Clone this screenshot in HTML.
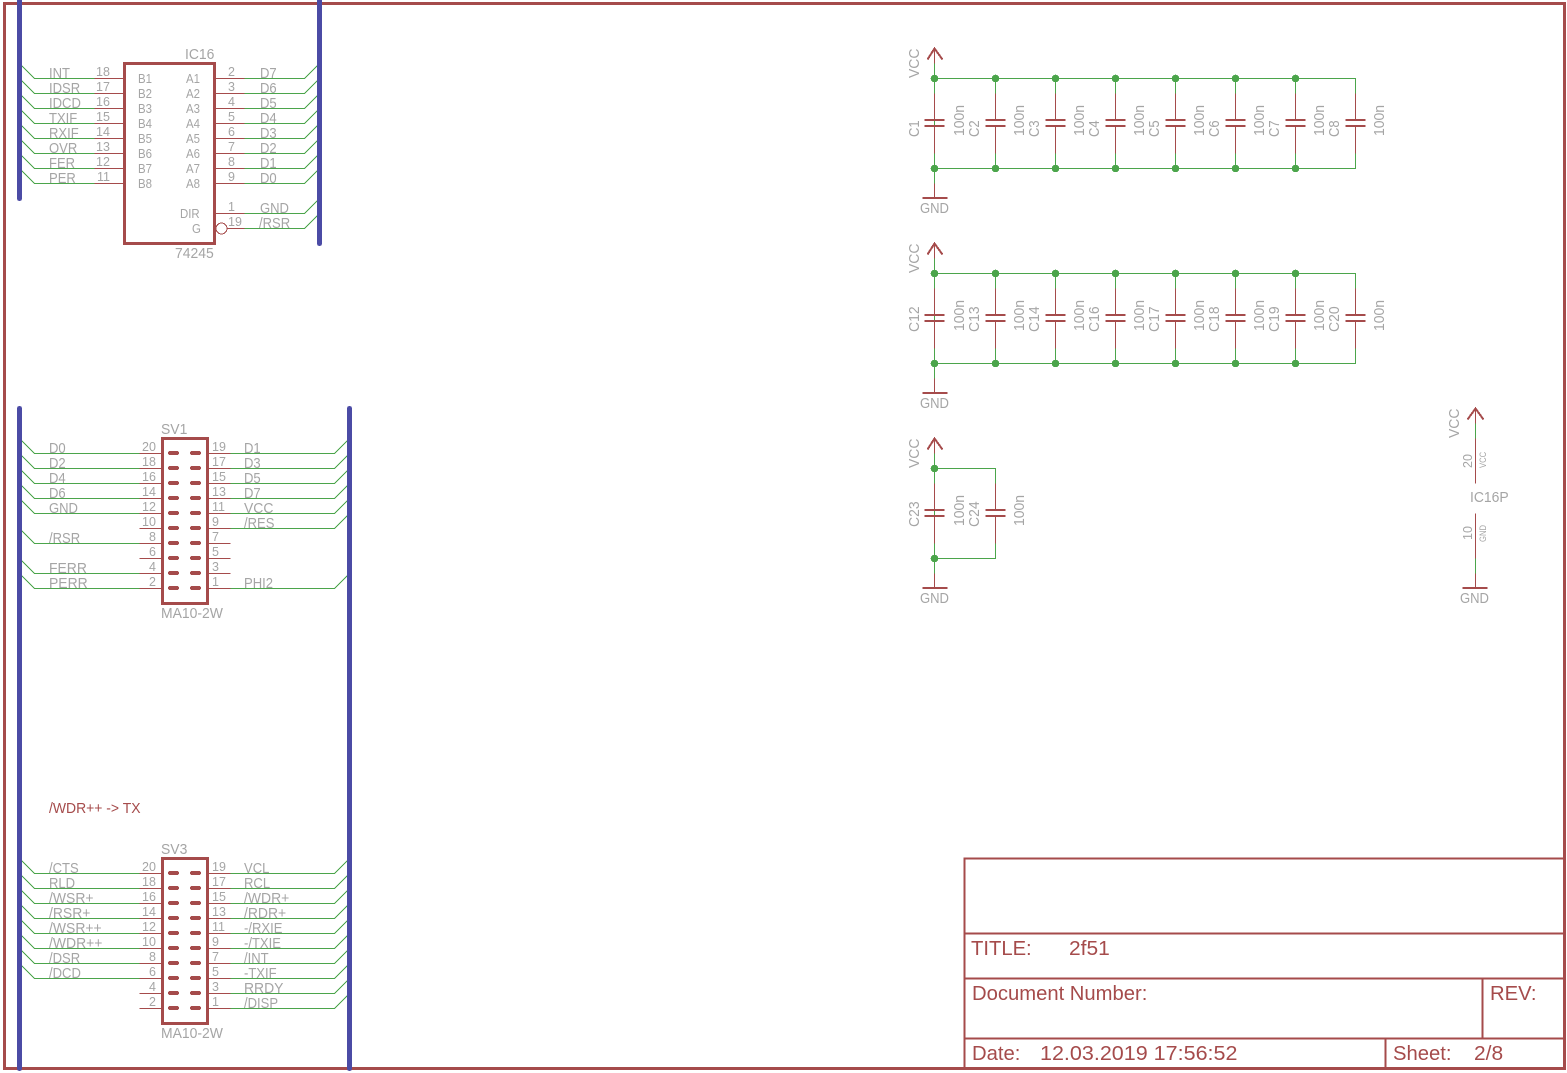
<!DOCTYPE html>
<html><head><meta charset="utf-8"><title>2f51</title>
<style>
html,body{margin:0;padding:0;background:#fff;width:1567px;height:1073px;overflow:hidden}
svg{display:block;position:absolute;left:0;top:0;shape-rendering:crispEdges}
text{font-family:"Liberation Sans",sans-serif;fill:#a5a5a5;transform-box:fill-box;transform-origin:0 0}
.l{font-size:15px;transform:scaleX(.87)}
.w{font-size:15px;transform:scaleX(.93)}
.p{font-size:12.5px;transform:scaleX(1)}
.n{font-size:13px;transform:scaleX(.88)}
.s{font-size:9px;transform:scaleX(.85)}
.r{fill:#a54b4b}
.t{fill:#a54b4b;font-size:20px;transform:scaleX(1.012)}
.t2{fill:#a54b4b;font-size:20px;transform:scaleX(1.05)}
.t3{fill:#a54b4b;font-size:20px;transform:scaleX(1.077)}
path,circle,rect{fill:none}
.R{stroke:#a54b4b;stroke-width:1}
.R2{stroke:#a54b4b;stroke-width:2}
.R3{stroke:#a54b4b;stroke-width:3}
.G{stroke:#4ba54b;stroke-width:1}
.B{stroke:#4b4ba5;stroke-width:5;stroke-linecap:round}
.P{stroke:#a54b4b;stroke-width:4;stroke-linecap:round}
.d circle{fill:#4ba54b}
</style></head><body>
<svg width="1567" height="1073" viewBox="0 0 1567 1073" xmlns="http://www.w3.org/2000/svg">
<g transform="translate(.5 .5)">
<!-- frame -->
<path class="R3" d="M4 3H1564V1068H4Z"/>
<path class="R2" d="M964 1068V858H1564M964 933H1564M964 978H1564M964 1038H1564M1482 978V1038M1385 1038V1068"/>

<!-- IC16 nets -->
<path class="G" d="M19 63L34 78H94M19 78L34 93H94M19 93L34 108H94M19 108L34 123H94M19 123L34 138H94M19 138L34 153H94M19 153L34 168H94M19 168L34 183H94"/>
<path class="G" d="M244 78H304L319 63M244 93H304L319 78M244 108H304L319 93M244 123H304L319 108M244 138H304L319 123M244 153H304L319 138M244 168H304L319 153M244 183H304L319 168M244 213H304L319 198M244 228H304L319 213"/>
<path class="R" d="M94 78H124M94 93H124M94 108H124M94 123H124M94 138H124M94 153H124M94 168H124M94 183H124M214 78H244M214 93H244M214 108H244M214 123H244M214 138H244M214 153H244M214 168H244M214 183H244M214 213H244M226 228H244"/>
<rect class="R3" x="124" y="63" width="90" height="180"/>
<circle class="R" cx="221" cy="228" r="5.5" style="fill:#fff"/>

<!-- SV1 nets -->
<path class="G" d="M19 438L34 453H139M19 453L34 468H139M19 468L34 483H139M19 483L34 498H139M19 498L34 513H139M19 528L34 543H139M19 558L34 573H139M19 573L34 588H139"/>
<path class="G" d="M230 453H334L349 438M230 468H334L349 453M230 483H334L349 468M230 498H334L349 483M230 513H334L349 498M230 528H334L349 513M230 588H334L349 573"/>
<path class="R" d="M139 453H162M139 468H162M139 483H162M139 498H162M139 513H162M139 528H162M139 543H162M139 558H162M139 573H162M139 588H162M207 453H230M207 468H230M207 483H230M207 498H230M207 513H230M207 528H230M207 543H230M207 558H230M207 573H230M207 588H230"/>
<rect class="R3" x="162" y="438" width="45" height="165"/>

<!-- SV3 nets -->
<path class="G" d="M19 858L34 873H139M19 873L34 888H139M19 888L34 903H139M19 903L34 918H139M19 918L34 933H139M19 933L34 948H139M19 948L34 963H139M19 963L34 978H139"/>
<path class="G" d="M230 873H334L349 858M230 888H334L349 873M230 903H334L349 888M230 918H334L349 903M230 933H334L349 918M230 948H334L349 933M230 963H334L349 948M230 978H334L349 963M230 993H334L349 978M230 1008H334L349 993"/>
<path class="R" d="M139 873H162M139 888H162M139 903H162M139 918H162M139 933H162M139 948H162M139 963H162M139 978H162M139 993H162M139 1008H162M207 873H230M207 888H230M207 903H230M207 918H230M207 933H230M207 948H230M207 963H230M207 978H230M207 993H230M207 1008H230"/>
<rect class="R3" x="162" y="858" width="45" height="165"/>

<!-- buses -->
<path class="B" d="M19 -3V198M319 -3V243M19 408V1068M349 408V1068"/>

<!-- Cap group 1 -->
<path class="G" d="M934 63V183M934 78H1355V93M934 168H1355V153M995 78V93M995 153V168M1055 78V93M1055 153V168M1115 78V93M1115 153V168M1175 78V93M1175 153V168M1235 78V93M1235 153V168M1295 78V93M1295 153V168"/>
<path class="R" d="M934 48V63M934 183V197M934 93V120M934 126V153M995 93V120M995 126V153M1055 93V120M1055 126V153M1115 93V120M1115 126V153M1175 93V120M1175 126V153M1235 93V120M1235 126V153M1295 93V120M1295 126V153M1355 93V120M1355 126V153"/>
<path class="R2" d="M927 59L934 48L942 59M922 197.5H947M924 119.5H944M924 125.5H944M985 119.5H1005M985 125.5H1005M1045 119.5H1065M1045 125.5H1065M1105 119.5H1125M1105 125.5H1125M1165 119.5H1185M1165 125.5H1185M1225 119.5H1245M1225 125.5H1245M1285 119.5H1305M1285 125.5H1305M1345 119.5H1365M1345 125.5H1365"/>
<g class="d"><circle cx="934" cy="78" r="3.8"/><circle cx="995" cy="78" r="3.8"/><circle cx="1055" cy="78" r="3.8"/><circle cx="1115" cy="78" r="3.8"/><circle cx="1175" cy="78" r="3.8"/><circle cx="1235" cy="78" r="3.8"/><circle cx="1295" cy="78" r="3.8"/><circle cx="934" cy="168" r="3.8"/><circle cx="995" cy="168" r="3.8"/><circle cx="1055" cy="168" r="3.8"/><circle cx="1115" cy="168" r="3.8"/><circle cx="1175" cy="168" r="3.8"/><circle cx="1235" cy="168" r="3.8"/><circle cx="1295" cy="168" r="3.8"/></g>

<!-- Cap group 2 -->
<g transform="translate(0 195)">
<path class="G" d="M934 63V183M934 78H1355V93M934 168H1355V153M995 78V93M995 153V168M1055 78V93M1055 153V168M1115 78V93M1115 153V168M1175 78V93M1175 153V168M1235 78V93M1235 153V168M1295 78V93M1295 153V168"/>
<path class="R" d="M934 48V63M934 183V197M934 93V120M934 126V153M995 93V120M995 126V153M1055 93V120M1055 126V153M1115 93V120M1115 126V153M1175 93V120M1175 126V153M1235 93V120M1235 126V153M1295 93V120M1295 126V153M1355 93V120M1355 126V153"/>
<path class="R2" d="M927 59L934 48L942 59M922 197.5H947M924 119.5H944M924 125.5H944M985 119.5H1005M985 125.5H1005M1045 119.5H1065M1045 125.5H1065M1105 119.5H1125M1105 125.5H1125M1165 119.5H1185M1165 125.5H1185M1225 119.5H1245M1225 125.5H1245M1285 119.5H1305M1285 125.5H1305M1345 119.5H1365M1345 125.5H1365"/>
<g class="d"><circle cx="934" cy="78" r="3.8"/><circle cx="995" cy="78" r="3.8"/><circle cx="1055" cy="78" r="3.8"/><circle cx="1115" cy="78" r="3.8"/><circle cx="1175" cy="78" r="3.8"/><circle cx="1235" cy="78" r="3.8"/><circle cx="1295" cy="78" r="3.8"/><circle cx="934" cy="168" r="3.8"/><circle cx="995" cy="168" r="3.8"/><circle cx="1055" cy="168" r="3.8"/><circle cx="1115" cy="168" r="3.8"/><circle cx="1175" cy="168" r="3.8"/><circle cx="1235" cy="168" r="3.8"/><circle cx="1295" cy="168" r="3.8"/></g>
</g>

<!-- Cap group 3 -->
<g transform="translate(0 390)">
<path class="G" d="M934 63V183M934 78H995V93M934 168H995V153"/>
<path class="R" d="M934 48V63M934 183V197M934 93V120M934 126V153M995 93V120M995 126V153"/>
<path class="R2" d="M927 59L934 48L942 59M922 197.5H947M924 119.5H944M924 125.5H944M985 119.5H1005M985 125.5H1005"/>
<g class="d"><circle cx="934" cy="78" r="3.8"/><circle cx="934" cy="168" r="3.8"/></g>
</g>

<!-- IC16P -->
<path class="R" d="M1475 408V423M1475 438V483M1475 513V558M1475 573V587"/>
<path class="G" d="M1475 423V438M1475 558V573"/>
<path class="R2" d="M1467 419L1475 408L1483 419M1462 587.5H1487"/>
</g>

<!-- connector pads -->
<path class="P" d="M170 453H177M192 453H199M170 468H177M192 468H199M170 483H177M192 483H199M170 498H177M192 498H199M170 513H177M192 513H199M170 528H177M192 528H199M170 543H177M192 543H199M170 558H177M192 558H199M170 573H177M192 573H199M170 588H177M192 588H199"/>
<path class="P" d="M170 873H177M192 873H199M170 888H177M192 888H199M170 903H177M192 903H199M170 918H177M192 918H199M170 933H177M192 933H199M170 948H177M192 948H199M170 963H177M192 963H199M170 978H177M192 978H199M170 993H177M192 993H199M170 1008H177M192 1008H199"/>

<!-- IC16 text -->
<text class="w" x="185" y="59">IC16</text>
<text class="w" x="175" y="258">74245</text>
<text class="l" x="49" y="78">INT</text><text class="l" x="49" y="93">IDSR</text><text class="l" x="49" y="108">IDCD</text><text class="l" x="49" y="123">TXIF</text><text class="l" x="49" y="138">RXIF</text><text class="l" x="49" y="153">OVR</text><text class="l" x="49" y="168">FER</text><text class="l" x="49" y="183">PER</text>
<text class="p" x="96" y="76">18</text><text class="p" x="96" y="91">17</text><text class="p" x="96" y="106">16</text><text class="p" x="96" y="121">15</text><text class="p" x="96" y="136">14</text><text class="p" x="96" y="151">13</text><text class="p" x="96" y="166">12</text><text class="p" x="97" y="181">11</text>
<text class="n" x="138" y="83">B1</text><text class="n" x="138" y="98">B2</text><text class="n" x="138" y="113">B3</text><text class="n" x="138" y="128">B4</text><text class="n" x="138" y="143">B5</text><text class="n" x="138" y="158">B6</text><text class="n" x="138" y="173">B7</text><text class="n" x="138" y="188">B8</text>
<text class="n" x="186" y="83">A1</text><text class="n" x="186" y="98">A2</text><text class="n" x="186" y="113">A3</text><text class="n" x="186" y="128">A4</text><text class="n" x="186" y="143">A5</text><text class="n" x="186" y="158">A6</text><text class="n" x="186" y="173">A7</text><text class="n" x="186" y="188">A8</text>
<text class="n" x="180" y="218">DIR</text><text class="n" x="192" y="233">G</text>
<text class="p" x="228" y="76">2</text><text class="p" x="228" y="91">3</text><text class="p" x="228" y="106">4</text><text class="p" x="228" y="121">5</text><text class="p" x="228" y="136">6</text><text class="p" x="228" y="151">7</text><text class="p" x="228" y="166">8</text><text class="p" x="228" y="181">9</text><text class="p" x="228" y="211">1</text><text class="p" x="228" y="226">19</text>
<text class="l" x="260" y="78">D7</text><text class="l" x="260" y="93">D6</text><text class="l" x="260" y="108">D5</text><text class="l" x="260" y="123">D4</text><text class="l" x="260" y="138">D3</text><text class="l" x="260" y="153">D2</text><text class="l" x="260" y="168">D1</text><text class="l" x="260" y="183">D0</text><text class="l" x="260" y="213">GND</text><text class="l" x="259" y="228">/RSR</text>

<!-- SV1 text -->
<text class="w" x="161" y="434">SV1</text>
<text class="w" x="161" y="618">MA10-2W</text>
<text class="l" x="49" y="453">D0</text><text class="l" x="49" y="468">D2</text><text class="l" x="49" y="483">D4</text><text class="l" x="49" y="498">D6</text><text class="l" x="49" y="513">GND</text><text class="l" x="49" y="543">/RSR</text><text class="w" x="49" y="573">FERR</text><text class="w" x="49" y="588">PERR</text>
<text class="p" x="142" y="451">20</text><text class="p" x="142" y="466">18</text><text class="p" x="142" y="481">16</text><text class="p" x="142" y="496">14</text><text class="p" x="142" y="511">12</text><text class="p" x="142" y="526">10</text><text class="p" x="149" y="541">8</text><text class="p" x="149" y="556">6</text><text class="p" x="149" y="571">4</text><text class="p" x="149" y="586">2</text>
<text class="p" x="212" y="451">19</text><text class="p" x="212" y="466">17</text><text class="p" x="212" y="481">15</text><text class="p" x="212" y="496">13</text><text class="p" x="212" y="511">11</text><text class="p" x="212" y="526">9</text><text class="p" x="212" y="541">7</text><text class="p" x="212" y="556">5</text><text class="p" x="212" y="571">3</text><text class="p" x="212" y="586">1</text>
<text class="l" x="244" y="453">D1</text><text class="l" x="244" y="468">D3</text><text class="l" x="244" y="483">D5</text><text class="l" x="244" y="498">D7</text><text class="w" x="244" y="513">VCC</text><text class="l" x="244" y="528">/RES</text><text class="l" x="244" y="588">PHI2</text>

<!-- SV3 text -->
<text class="w r" x="49" y="813">/WDR++ -&gt; TX</text>
<text class="w" x="161" y="854">SV3</text>
<text class="w" x="161" y="1038">MA10-2W</text>
<text class="l" x="49" y="873">/CTS</text><text class="l" x="49" y="888">RLD</text><text class="w" x="49" y="903">/WSR+</text><text class="w" x="49" y="918">/RSR+</text><text class="w" x="49" y="933">/WSR++</text><text class="w" x="49" y="948">/WDR++</text><text class="l" x="49" y="963">/DSR</text><text class="l" x="49" y="978">/DCD</text>
<text class="p" x="142" y="871">20</text><text class="p" x="142" y="886">18</text><text class="p" x="142" y="901">16</text><text class="p" x="142" y="916">14</text><text class="p" x="142" y="931">12</text><text class="p" x="142" y="946">10</text><text class="p" x="149" y="961">8</text><text class="p" x="149" y="976">6</text><text class="p" x="149" y="991">4</text><text class="p" x="149" y="1006">2</text>
<text class="p" x="212" y="871">19</text><text class="p" x="212" y="886">17</text><text class="p" x="212" y="901">15</text><text class="p" x="212" y="916">13</text><text class="p" x="212" y="931">11</text><text class="p" x="212" y="946">9</text><text class="p" x="212" y="961">7</text><text class="p" x="212" y="976">5</text><text class="p" x="212" y="991">3</text><text class="p" x="212" y="1006">1</text>
<text class="l" x="244" y="873">VCL</text><text class="l" x="244" y="888">RCL</text><text class="w" x="244" y="903">/WDR+</text><text class="w" x="244" y="918">/RDR+</text><text class="l" x="244" y="933">-/RXIE</text><text class="l" x="244" y="948">-/TXIE</text><text class="l" x="244" y="963">/INT</text><text class="l" x="244" y="978">-TXIF</text><text class="w" x="244" y="993">RRDY</text><text class="l" x="244" y="1008">/DISP</text>

<!-- Cap text group 1 -->
<g transform="translate(919 78) rotate(-90)"><text class="w">VCC</text></g>
<text class="l" x="920" y="213">GND</text>
<g transform="translate(919 137) rotate(-90)"><text class="l">C1</text></g><g transform="translate(964 136) rotate(-90)"><text class="w">100n</text></g>
<g transform="translate(979 137) rotate(-90)"><text class="l">C2</text></g><g transform="translate(1024 136) rotate(-90)"><text class="w">100n</text></g>
<g transform="translate(1039 137) rotate(-90)"><text class="l">C3</text></g><g transform="translate(1084 136) rotate(-90)"><text class="w">100n</text></g>
<g transform="translate(1099 137) rotate(-90)"><text class="l">C4</text></g><g transform="translate(1144 136) rotate(-90)"><text class="w">100n</text></g>
<g transform="translate(1159 137) rotate(-90)"><text class="l">C5</text></g><g transform="translate(1204 136) rotate(-90)"><text class="w">100n</text></g>
<g transform="translate(1219 137) rotate(-90)"><text class="l">C6</text></g><g transform="translate(1264 136) rotate(-90)"><text class="w">100n</text></g>
<g transform="translate(1279 137) rotate(-90)"><text class="l">C7</text></g><g transform="translate(1324 136) rotate(-90)"><text class="w">100n</text></g>
<g transform="translate(1339 137) rotate(-90)"><text class="l">C8</text></g><g transform="translate(1384 136) rotate(-90)"><text class="w">100n</text></g>

<!-- Cap text group 2 -->
<g transform="translate(919 273) rotate(-90)"><text class="w">VCC</text></g>
<text class="l" x="920" y="408">GND</text>
<g transform="translate(919 332) rotate(-90)"><text class="w">C12</text></g><g transform="translate(964 331) rotate(-90)"><text class="w">100n</text></g>
<g transform="translate(979 332) rotate(-90)"><text class="w">C13</text></g><g transform="translate(1024 331) rotate(-90)"><text class="w">100n</text></g>
<g transform="translate(1039 332) rotate(-90)"><text class="w">C14</text></g><g transform="translate(1084 331) rotate(-90)"><text class="w">100n</text></g>
<g transform="translate(1099 332) rotate(-90)"><text class="w">C16</text></g><g transform="translate(1144 331) rotate(-90)"><text class="w">100n</text></g>
<g transform="translate(1159 332) rotate(-90)"><text class="w">C17</text></g><g transform="translate(1204 331) rotate(-90)"><text class="w">100n</text></g>
<g transform="translate(1219 332) rotate(-90)"><text class="w">C18</text></g><g transform="translate(1264 331) rotate(-90)"><text class="w">100n</text></g>
<g transform="translate(1279 332) rotate(-90)"><text class="w">C19</text></g><g transform="translate(1324 331) rotate(-90)"><text class="w">100n</text></g>
<g transform="translate(1339 332) rotate(-90)"><text class="w">C20</text></g><g transform="translate(1384 331) rotate(-90)"><text class="w">100n</text></g>

<!-- Cap text group 3 -->
<g transform="translate(919 468) rotate(-90)"><text class="w">VCC</text></g>
<text class="l" x="920" y="603">GND</text>
<g transform="translate(919 527) rotate(-90)"><text class="w">C23</text></g><g transform="translate(964 526) rotate(-90)"><text class="w">100n</text></g>
<g transform="translate(979 527) rotate(-90)"><text class="w">C24</text></g><g transform="translate(1024 526) rotate(-90)"><text class="w">100n</text></g>

<!-- IC16P text -->
<g transform="translate(1459 438) rotate(-90)"><text class="w">VCC</text></g>
<text class="l" x="1460" y="603">GND</text>
<text class="w" x="1470" y="502">IC16P</text>
<g transform="translate(1472 468) rotate(-90)"><text class="p">20</text></g>
<g transform="translate(1472 540) rotate(-90)"><text class="p">10</text></g>
<g transform="translate(1486 468) rotate(-90)"><text class="s">VCC</text></g>
<g transform="translate(1486 542) rotate(-90)"><text class="s">GND</text></g>

<!-- Title block text -->
<text class="t" x="971" y="955">TITLE:</text>
<text class="t2" x="1069" y="955">2f51</text>
<text class="t" x="972" y="1000">Document Number:</text>
<text class="t" x="1490" y="1000">REV:</text>
<text class="t" x="972" y="1060">Date:</text>
<text class="t3" x="1040" y="1060">12.03.2019 17:56:52</text>
<text class="t" x="1393" y="1060">Sheet:</text>
<text class="t2" x="1474" y="1060">2/8</text>
</svg>
</body></html>
